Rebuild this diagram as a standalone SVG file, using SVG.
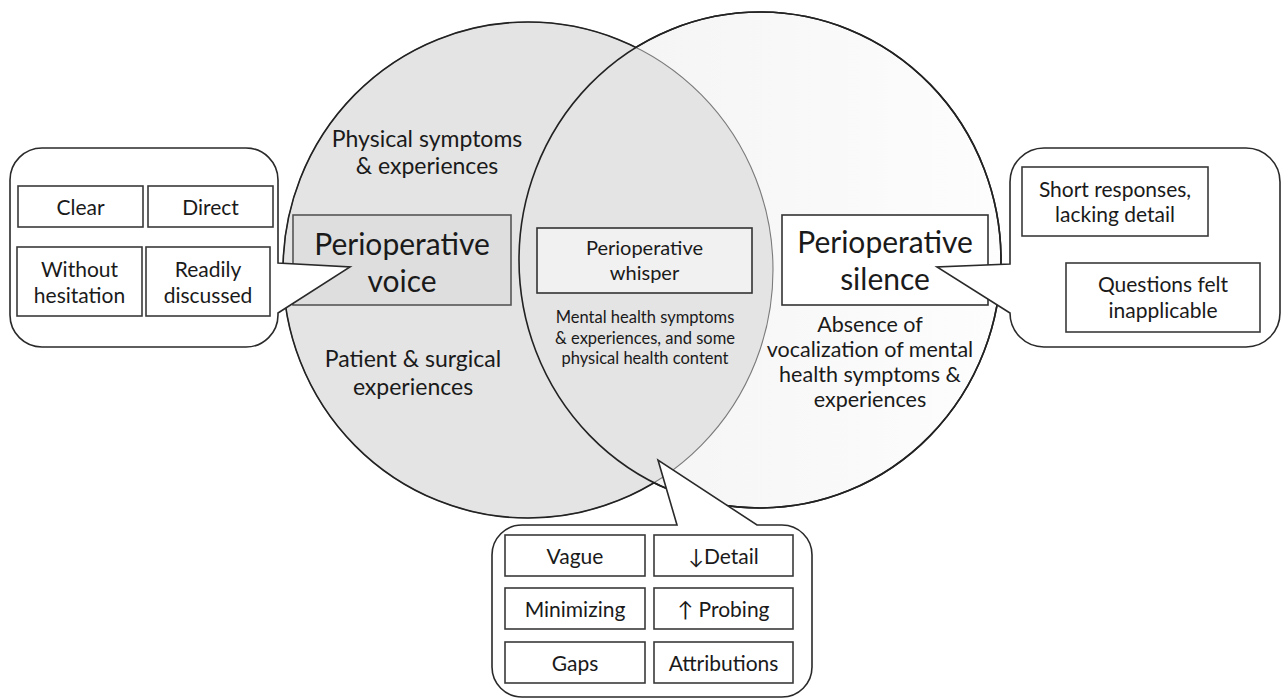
<svg xmlns="http://www.w3.org/2000/svg" width="1284" height="700" viewBox="0 0 1284 700">
<style>
text{font-family:Lato,"DejaVu Sans",sans-serif;fill:#1a1a1a;text-anchor:middle}
.box{fill:#fff;stroke:#3a3a3a;stroke-width:1.6}
.bub{fill:#fff;stroke:#2a2a2a;stroke-width:1.6;stroke-linejoin:miter}
.lbl{font-size:21px}
.mid{font-size:23px}
.abs{font-size:21.5px}
.big{font-size:30px}
</style>
<defs>
<linearGradient id="rg" x1="0" y1="0" x2="1" y2="0">
<stop offset="0" stop-color="#f2f2f2"/>
<stop offset="1" stop-color="#fdfdfd"/>
</linearGradient>
<mask id="outR">
<rect width="1284" height="700" fill="#fff"/>
<ellipse cx="760" cy="260" rx="241" ry="248" fill="#000"/>
</mask>
</defs>
<rect width="1284" height="700" fill="#fff"/>
<g id="circles">
<ellipse cx="760" cy="260" rx="241" ry="248" fill="url(#rg)" stroke="#222" stroke-width="1.6"/>
<ellipse cx="528" cy="270" rx="245" ry="248" fill="#e4e4e4" stroke="#7a7a7a" stroke-width="1.1"/>
<ellipse cx="528" cy="270" rx="245" ry="248" fill="none" stroke="#222" stroke-width="1.6" mask="url(#outR)"/>
<ellipse cx="760" cy="260" rx="241" ry="248" fill="none" stroke="#222" stroke-width="1.6"/>
</g>
<g id="region-labels">
<text class="mid" x="427" y="147">Physical symptoms</text>
<text class="mid" x="427" y="174">&amp; experiences</text>
<text class="mid" x="413" y="367">Patient &amp; surgical</text>
<text class="mid" x="413" y="395">experiences</text>
<text style="font-size:16.5px" x="645" y="323">Mental health symptoms</text>
<text style="font-size:16.5px" x="645" y="344">&amp; experiences, and some</text>
<text style="font-size:16.5px" x="645" y="364">physical health content</text>
<text class="abs" x="870" y="332">Absence of</text>
<text class="abs" x="870" y="357">vocalization of mental</text>
<text class="abs" x="870" y="382">health symptoms &amp;</text>
<text class="abs" x="870" y="407">experiences</text>
</g>
<g id="voice">
<rect x="293" y="215" width="218" height="90" fill="#dedede" stroke="#555" stroke-width="1.6"/>
<text class="big" x="402" y="255">Perioperative</text>
<text class="big" x="402" y="292">voice</text>
</g>
<g id="whisper">
<rect x="537" y="228" width="215" height="65" fill="#f1f1f1" stroke="#333" stroke-width="1.6"/>
<text style="font-size:20px" x="644.5" y="255">Perioperative</text>
<text style="font-size:20px" x="644.5" y="280">whisper</text>
</g>
<g id="silence">
<rect x="782" y="215" width="206" height="90" fill="#fff" stroke="#333" stroke-width="1.6"/>
<text class="big" x="885" y="253">Perioperative</text>
<text class="big" x="885" y="290">silence</text>
</g>
<g id="voice-bubble">
<path class="bub" d="M42,148 H246 A32 32 0 0 1 278 180 V263 L350 267 L278 313 V315 A32 32 0 0 1 246 347 H42 A32 32 0 0 1 10 315 V180 A32 32 0 0 1 42 148 Z"/>
<rect class="box" x="18" y="186" width="125" height="41"/>
<text class="lbl" x="80.5" y="215">Clear</text>
<rect class="box" x="148" y="186" width="125" height="41"/>
<text class="lbl" x="210.5" y="215">Direct</text>
<rect class="box" x="17" y="247" width="125" height="69"/>
<text class="lbl" x="79.5" y="277">Without</text>
<text class="lbl" x="79.5" y="303">hesitation</text>
<rect class="box" x="146" y="247" width="124" height="69"/>
<text class="lbl" x="208" y="277">Readily</text>
<text class="lbl" x="208" y="303">discussed</text>
</g>
<g id="silence-bubble">
<path class="bub" d="M1044,148 H1246 A34 34 0 0 1 1280 182 V313 A34 34 0 0 1 1246 347 H1044 A34 34 0 0 1 1010 313 L937 267 L1010 264 V182 A34 34 0 0 1 1044 148 Z"/>
<rect class="box" x="1022" y="167" width="186" height="69"/>
<text class="lbl" x="1115" y="197">Short responses,</text>
<text class="lbl" x="1115" y="222">lacking detail</text>
<rect class="box" x="1066" y="263" width="194" height="69"/>
<text class="lbl" x="1163" y="292">Questions felt</text>
<text class="lbl" x="1163" y="318">inapplicable</text>
</g>
<g id="whisper-bubble">
<path class="bub" d="M522,525 H677 L658 460 L757 525 H782 A30 30 0 0 1 812 555 V667 A30 30 0 0 1 782 697 H522 A30 30 0 0 1 492 667 V555 A30 30 0 0 1 522 525 Z"/>
<rect class="box" x="505" y="535" width="140" height="41"/>
<text class="lbl" x="575" y="564">Vague</text>
<rect class="box" x="654" y="535" width="139" height="41"/>
<text class="lbl" x="723.5" y="564">↓Detail</text>
<rect class="box" x="505" y="588" width="140" height="41"/>
<text class="lbl" x="575" y="617">Minimizing</text>
<rect class="box" x="654" y="588" width="139" height="41"/>
<text class="lbl" x="723.5" y="617">↑ Probing</text>
<rect class="box" x="505" y="642" width="140" height="41"/>
<text class="lbl" x="575" y="671">Gaps</text>
<rect class="box" x="654" y="642" width="139" height="41"/>
<text class="lbl" x="723.5" y="671">Attributions</text>
</g>
</svg>
